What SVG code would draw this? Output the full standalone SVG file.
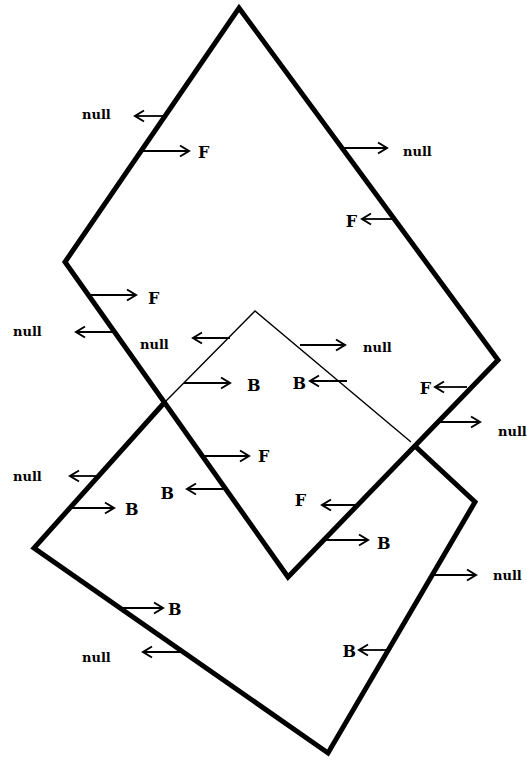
<svg xmlns="http://www.w3.org/2000/svg" width="527" height="760" viewBox="0 0 527 760">
<style>
.thick{fill:none;stroke:#000;stroke-width:5;stroke-linejoin:miter}
.thin{fill:none;stroke:#000;stroke-width:1.4}
.arr{stroke:#000;stroke-width:1.8;fill:none;marker-end:url(#ah)}
.nl{font-family:"DejaVu Serif",serif;font-weight:bold;font-size:13px}
.lb{font-family:"DejaVu Serif",serif;font-weight:bold;font-size:16px}
</style>
<defs>
<marker id="ah" markerUnits="userSpaceOnUse" viewBox="-11 -7 13 14" refX="0" refY="0" markerWidth="13" markerHeight="14" orient="auto">
<path d="M-9,-5.5 L0,0 L-9,5.5" fill="none" stroke="#000" stroke-width="2"/>
</marker>
</defs>
<g id="shape-upper">
<polygon class="thick" points="239,8 498,360 288,577 65,262"/>
</g>
<g id="shape-lower">
<polyline class="thick" points="416,447 475,502 328,753 34,548 164,403"/>
<polyline class="thin" points="164,403 255,311 411,442"/>
</g>
<g id="connectors">
<line class="arr" x1="165" y1="116" x2="135" y2="116"/>
<line class="arr" x1="143" y1="151" x2="189" y2="151"/>
<line class="arr" x1="344" y1="148" x2="387" y2="148"/>
<line class="arr" x1="393" y1="219" x2="362" y2="219"/>
<line class="arr" x1="89" y1="295" x2="136" y2="295"/>
<line class="arr" x1="113" y1="332" x2="76" y2="332"/>
<line class="arr" x1="230" y1="338" x2="193" y2="338"/>
<line class="arr" x1="184" y1="383" x2="230" y2="383"/>
<line class="arr" x1="300" y1="345" x2="345" y2="345"/>
<line class="arr" x1="347" y1="381" x2="310" y2="381"/>
<line class="arr" x1="467" y1="387" x2="435" y2="387"/>
<line class="arr" x1="440" y1="422" x2="480" y2="422"/>
<line class="arr" x1="205" y1="456" x2="249" y2="456"/>
<line class="arr" x1="223" y1="489" x2="187" y2="489"/>
<line class="arr" x1="100" y1="476" x2="70" y2="476"/>
<line class="arr" x1="72" y1="508" x2="114" y2="508"/>
<line class="arr" x1="355" y1="505" x2="322" y2="505"/>
<line class="arr" x1="323" y1="540" x2="368" y2="540"/>
<line class="arr" x1="433" y1="575" x2="476" y2="575"/>
<line class="arr" x1="123" y1="608" x2="163" y2="608"/>
<line class="arr" x1="182" y1="652" x2="143" y2="652"/>
<line class="arr" x1="390" y1="650" x2="359" y2="650"/>
</g>
<g id="labels">
<text class="nl" x="82" y="119">null</text>
<text class="lb" x="198" y="158">F</text>
<text class="nl" x="403" y="156">null</text>
<text class="lb" x="357" y="227" text-anchor="end">F</text>
<text class="lb" x="148" y="304">F</text>
<text class="nl" x="13" y="336">null</text>
<text class="nl" x="140" y="349">null</text>
<text class="lb" x="247" y="391">B</text>
<text class="nl" x="363" y="352">null</text>
<text class="lb" x="306" y="389" text-anchor="end">B</text>
<text class="lb" x="431" y="394" text-anchor="end">F</text>
<text class="nl" x="498" y="436">null</text>
<text class="lb" x="258" y="462">F</text>
<text class="lb" x="174" y="499" text-anchor="end">B</text>
<text class="nl" x="13" y="481">null</text>
<text class="lb" x="125" y="515">B</text>
<text class="lb" x="306" y="506" text-anchor="end">F</text>
<text class="lb" x="377" y="549">B</text>
<text class="nl" x="493" y="580">null</text>
<text class="lb" x="168" y="615">B</text>
<text class="nl" x="82" y="662">null</text>
<text class="lb" x="356" y="657" text-anchor="end">B</text>
</g>
</svg>
